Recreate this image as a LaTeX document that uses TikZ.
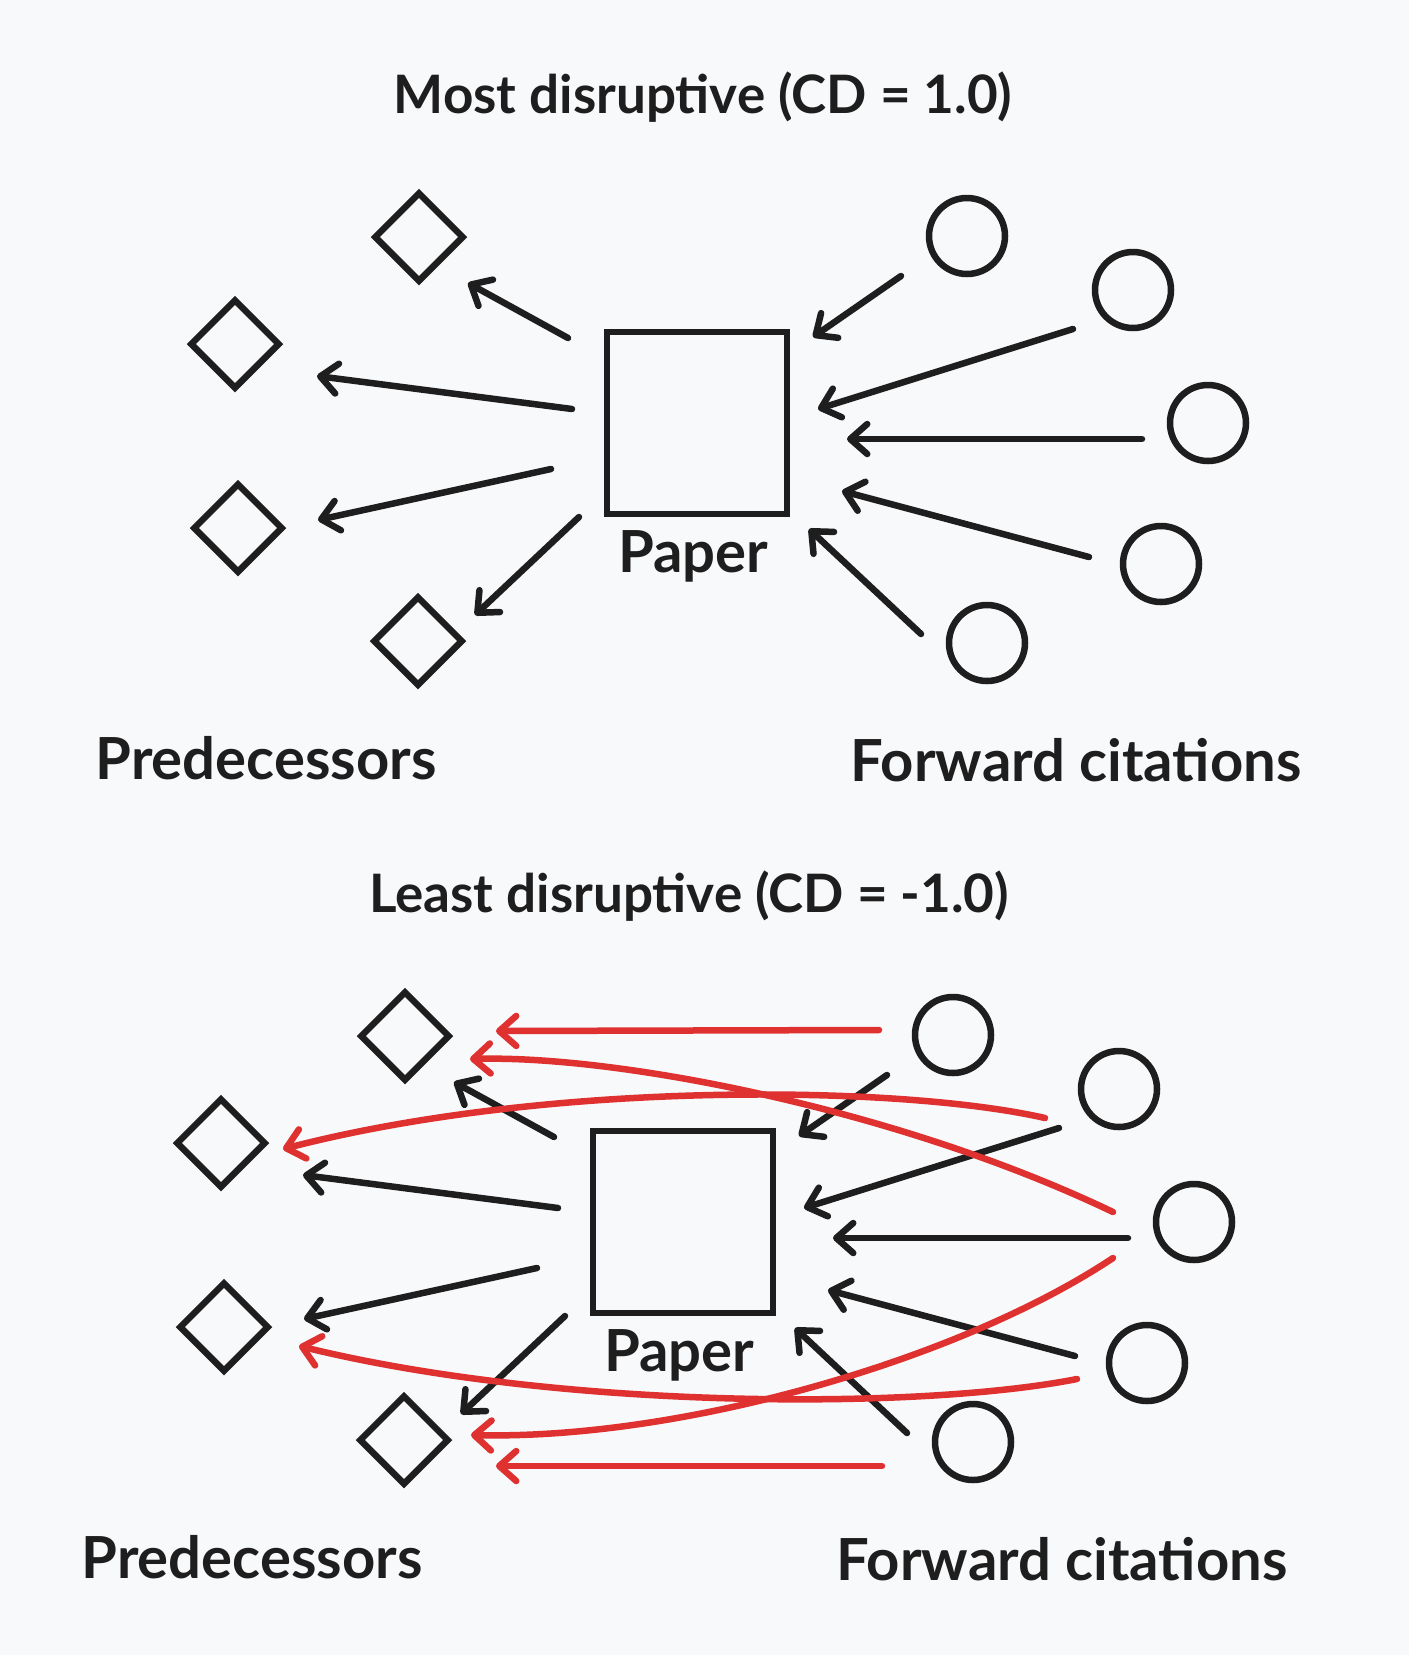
\documentclass[tikz,border=0pt]{standalone}
\usepackage{fontspec}
\setmainfont{Lato}
\usetikzlibrary{arrows.meta,shapes.geometric,positioning}
\definecolor{ink}{HTML}{1E1E1E}
\definecolor{redink}{HTML}{E03131}
\definecolor{paperbg}{HTML}{F8F9FB}
\tikzset{
    pred/.style={draw=ink, line width=6.5pt, diamond, minimum width=90pt, minimum height=90pt, inner sep=0pt},
    fwd/.style={draw=ink, line width=6.5pt, circle, minimum size=76pt, inner sep=0pt},
    paperbox/.style={draw=ink, line width=6.5pt, rectangle, minimum width=180pt, minimum height=182pt, inner sep=0pt},
    cite/.style={draw=ink, line width=6.5pt, line cap=round, line join=round, -{Straight Barb[length=17pt,width=30pt,round]}},
    recite/.style={cite, draw=redink},
    lbl/.style={text=ink, inner sep=0pt, font=\fontsize{58}{64}\selectfont\bfseries},
    ttl/.style={lbl, font=\fontsize{53}{60}\selectfont\bfseries}
}

\begin{document}
\begin{tikzpicture}[x=1pt,y=-1pt]
                    \fill [paperbg] (0,0) rectangle (1409,1655);
                    % most disruptive
                    \node [ttl] (titleA) at (703,97) {Most disruptive (CD = 1.0)};
                    \node [paperbox] (paperA) at (697,423) {};
                    \node [lbl] (paperlblA) at (693,556) {Paper};
                    \node [pred] (predA1) at (419,237) {};
                    \node [pred] (predA2) at (235,344) {};
                    \node [pred] (predA3) at (238,528) {};
                    \node [pred] (predA4) at (418,641) {};
                    \node [fwd] (fwdA1) at (967,236) {};
                    \node [fwd] (fwdA2) at (1133,290) {};
                    \node [fwd] (fwdA3) at (1208,423) {};
                    \node [fwd] (fwdA4) at (1161,564) {};
                    \node [fwd] (fwdA5) at (987,643) {};
                    \node [lbl] (predlblA) at (266,758) {Predecessors};
                    \node [lbl] (fwdlblA) at (1076,760) {Forward citations};
                    \coordinate (refA1t) at (568,338); \coordinate (refA1h) at (468,283);
                    \coordinate (refA2t) at (572,409); \coordinate (refA2h) at (317,376);
                    \coordinate (refA3t) at (551,469); \coordinate (refA3h) at (318,520);
                    \coordinate (refA4t) at (579,517); \coordinate (refA4h) at (475,615);
                    \coordinate (citA1t) at (901,276); \coordinate (citA1h) at (813,337);
                    \coordinate (citA2t) at (1073,329); \coordinate (citA2h) at (818,409);
                    \coordinate (citA3t) at (1142,439); \coordinate (citA3h) at (847,439);
                    \coordinate (citA4t) at (1089,557); \coordinate (citA4h) at (842,491);
                    \coordinate (citA5t) at (921,634); \coordinate (citA5h) at (809,529);
                    \draw [cite] (refA1t) -- (refA1h);
                    \draw [cite] (refA2t) -- (refA2h);
                    \draw [cite] (refA3t) -- (refA3h);
                    \draw [cite] (refA4t) -- (refA4h);
                    \draw [cite] (citA1t) -- (citA1h);
                    \draw [cite] (citA2t) -- (citA2h);
                    \draw [cite] (citA3t) -- (citA3h);
                    \draw [cite] (citA4t) -- (citA4h);
                    \draw [cite] (citA5t) -- (citA5h);
                    % least disruptive
                    \begin{scope}[shift={(-14,799)}]
                    \node [ttl] (titleB) at (703,97) {Least disruptive (CD = -1.0)};
                    \node [paperbox] (paperB) at (697,423) {};
                    \node [lbl] (paperlblB) at (693,556) {Paper};
                    \node [pred] (predB1) at (419,237) {};
                    \node [pred] (predB2) at (235,344) {};
                    \node [pred] (predB3) at (238,528) {};
                    \node [pred] (predB4) at (418,641) {};
                    \node [fwd] (fwdB1) at (967,236) {};
                    \node [fwd] (fwdB2) at (1133,290) {};
                    \node [fwd] (fwdB3) at (1208,423) {};
                    \node [fwd] (fwdB4) at (1161,564) {};
                    \node [fwd] (fwdB5) at (987,643) {};
                    \node [lbl] (predlblB) at (266,758) {Predecessors};
                    \node [lbl] (fwdlblB) at (1076,760) {Forward citations};
                    \coordinate (refB1t) at (568,338); \coordinate (refB1h) at (468,283);
                    \coordinate (refB2t) at (572,409); \coordinate (refB2h) at (317,376);
                    \coordinate (refB3t) at (551,469); \coordinate (refB3h) at (318,520);
                    \coordinate (refB4t) at (579,517); \coordinate (refB4h) at (475,615);
                    \coordinate (citB1t) at (901,276); \coordinate (citB1h) at (813,337);
                    \coordinate (citB2t) at (1073,329); \coordinate (citB2h) at (818,409);
                    \coordinate (citB3t) at (1142,439); \coordinate (citB3h) at (847,439);
                    \coordinate (citB4t) at (1089,557); \coordinate (citB4h) at (842,491);
                    \coordinate (citB5t) at (921,634); \coordinate (citB5h) at (809,529);
                    \draw [cite] (refB1t) -- (refB1h);
                    \draw [cite] (refB2t) -- (refB2h);
                    \draw [cite] (refB3t) -- (refB3h);
                    \draw [cite] (refB4t) -- (refB4h);
                    \draw [cite] (citB1t) -- (citB1h);
                    \draw [cite] (citB2t) -- (citB2h);
                    \draw [cite] (citB3t) -- (citB3h);
                    \draw [cite] (citB4t) -- (citB4h);
                    \draw [cite] (citB5t) -- (citB5h);
                    \end{scope}
                    % citations that skip the paper
                    \coordinate (skip1t) at (879,1030); \coordinate (skip1h) at (496,1031);
                    \coordinate (skip2t) at (1113,1212); \coordinate (skip2h) at (470,1059);
                    \coordinate (skip3t) at (1045,1118); \coordinate (skip3h) at (283,1149);
                    \coordinate (skip4t) at (1077,1379); \coordinate (skip4h) at (299,1346);
                    \coordinate (skip5t) at (1113,1258); \coordinate (skip5h) at (471,1435);
                    \coordinate (skip6t) at (882,1466); \coordinate (skip6h) at (496,1466);
                    \draw [recite] (skip1t) -- (skip1h);
                    \draw [recite] (skip2t) .. controls (900,1110) and (620,1055) .. (skip2h);
                    \draw [recite] (skip3t) .. controls (900,1085) and (550,1080) .. (skip3h);
                    \draw [recite] (skip4t) .. controls (920,1410) and (560,1410) .. (skip4h);
                    \draw [recite] (skip5t) .. controls (960,1360) and (680,1440) .. (skip5h);
                    \draw [recite] (skip6t) -- (skip6h);
                \end{tikzpicture}
\end{document}
